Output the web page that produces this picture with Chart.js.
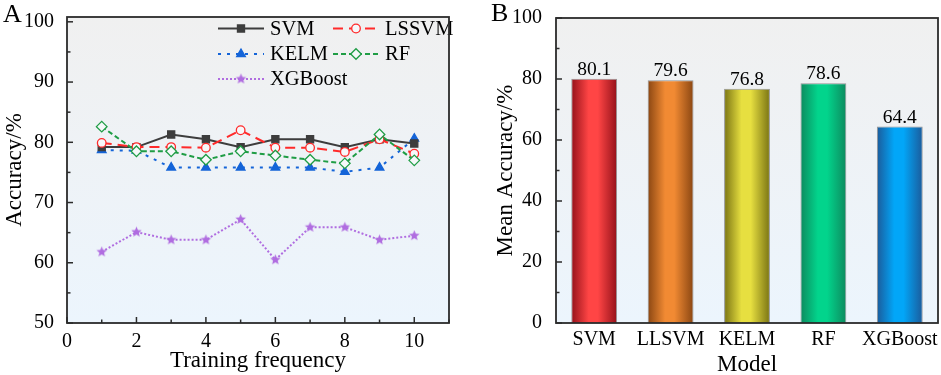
<!DOCTYPE html>
<html><head><meta charset="utf-8">
<script src="https://cdn.jsdelivr.net/npm/chart.js@4/dist/chart.umd.min.js"></script>
<style>
html,body{margin:0;padding:0;background:#fff;width:941px;height:375px;overflow:hidden}
#wl{position:absolute;left:0;top:0;width:470px;height:375px}
#wr{position:absolute;left:470px;top:0;width:471px;height:375px}
</style></head><body>
<div id="wl"><canvas id="cl"></canvas></div>
<div id="wr"><canvas id="cr"></canvas></div>
<script>
// ---------- data ----------
const trainingRuns = [1,2,3,4,5,6,7,8,9,10];
const svm     = [79.2,79.2,81.3,80.5,79.2,80.5,80.5,79.2,80.5,79.8];
const lssvm   = [79.9,79.2,79.2,79.1,82.0,79.1,79.1,78.4,80.5,78.1];
const kelm    = [78.7,78.6,75.8,75.8,75.8,75.8,75.8,75.1,75.8,80.6];
const rf      = [82.6,78.5,78.5,77.1,78.5,77.8,77.1,76.5,81.3,77.0];
const xgboost = [61.8,65.1,63.8,63.8,67.2,60.5,65.9,65.9,63.8,64.5];
const seriesNames = ['SVM','LSSVM','KELM','RF','XGBoost'];
const models = ['SVM','LLSVM','KELM','RF','XGBoost'];
const meanAccuracy = [80.1,79.6,76.8,78.6,64.4];

// ---------- styles ----------
const SERIF = '"Liberation Serif","Times New Roman",serif';
const barBright = ['#ff4545','#f18a33','#e7df40','#02d48c','#02a6f8'];
const barDark   = ['#94111a','#8a4612','#7a7413','#0d8a5e','#1b5b9b'];

function starImage(color, r){
  const c = document.createElement('canvas');
  const s = Math.ceil(r*2+2); c.width = s; c.height = s;
  const g = c.getContext('2d'); g.fillStyle = color; g.beginPath();
  for (let i=0;i<10;i++){
    const rr = i%2===0 ? r : r*0.45;
    const a = -Math.PI/2 + i*Math.PI/5;
    const x = s/2 + rr*Math.cos(a), y = s/2 + rr*Math.sin(a);
    i===0 ? g.moveTo(x,y) : g.lineTo(x,y);
  }
  g.closePath(); g.fill(); return c;
}
const star = starImage('#b06de0', 5.5);

const lineStyles = [
  {color:'#3d3d3d', dash:[], point:'rect', radius:5, fill:'#3d3d3d'},
  {color:'#ff2a2a', dash:[10,6], point:'circle', radius:4.3, fill:'#f6f8fa'},
  {color:'#1464d8', dash:[3,6], point:'triangle', radius:5, fill:'#1464d8'},
  {color:'#1f9d45', dash:[5,3], point:'rectRot', radius:5.3, fill:'#f6f8fa'},
  {color:'#b06de0', dash:[2,2], point:star, radius:5.5, fill:'#b06de0'}
];
const seriesData = [svm, lssvm, kelm, rf, xgboost];
const drawOrder = [2,1,4,0,3];

function bgPlugin(){
  return {
    id:'bg',
    beforeDraw(chart){
      const {ctx, chartArea:a} = chart;
      const g = ctx.createLinearGradient(0,a.top,0,a.bottom);
      g.addColorStop(0,'#f0f0f0'); g.addColorStop(1,'#ecf5fd');
      ctx.save(); ctx.fillStyle = g;
      ctx.fillRect(a.left,a.top,a.right-a.left,a.bottom-a.top); ctx.restore();
    }
  };
}
function frameTicksPlugin(cfg){
  return {
    id:'frameTicks',
    afterDraw(chart){
      const {ctx, chartArea:a} = chart;
      ctx.save();
      ctx.strokeStyle = '#2b2b2b'; ctx.lineWidth = 1.5;
      const ys = chart.scales.y;
      ys.ticks.forEach(t=>{
        const p = ys.getPixelForValue(t.value);
        const len = (Math.abs(t.value % cfg.yMajor) < 1e-6) ? 6 : 3.5;
        ctx.beginPath(); ctx.moveTo(a.left,p); ctx.lineTo(a.left+len,p); ctx.stroke();
      });
      if (cfg.xTicks){
        const xs = chart.scales.x;
        xs.ticks.forEach(t=>{
          const p = xs.getPixelForValue(t.value);
          const len = (Math.abs(t.value % cfg.xMajor) < 1e-6) ? 6 : 3.5;
          ctx.beginPath(); ctx.moveTo(p,a.bottom); ctx.lineTo(p,a.bottom-len); ctx.stroke();
        });
      }
      ctx.lineWidth = 1.8;
      ctx.strokeRect(a.left,a.top,a.right-a.left,a.bottom-a.top);
      ctx.fillStyle = '#000'; ctx.font = '26px '+SERIF; ctx.textBaseline='alphabetic';
      ctx.fillText(cfg.letter, cfg.lx, cfg.ly);
      ctx.restore();
    }
  };
}
function drawMarker(ctx, st, x, y){
  ctx.save();
  ctx.setLineDash([]);
  if (st.point instanceof HTMLCanvasElement){
    ctx.drawImage(st.point, x - st.point.width/2, y - st.point.height/2);
  } else if (Chart.helpers && Chart.helpers.drawPoint){
    ctx.fillStyle = st.fill; ctx.strokeStyle = st.color; ctx.lineWidth = 1.3;
    Chart.helpers.drawPoint(ctx, {pointStyle: st.point, radius: st.radius, rotation:0, borderWidth:1.3}, x, y);
  }
  ctx.restore();
}
const legendPlugin = {
  id:'innerLegend',
  afterDatasetsDraw(chart){
    const {ctx, chartArea:a} = chart;
    const cols = [a.left+151, a.left+266];
    const rows = [a.top+11.5, a.top+37, a.top+62];
    const w = 46;
    ctx.save();
    ctx.font = '20.5px '+SERIF; ctx.fillStyle = '#000'; ctx.textBaseline = 'middle';
    seriesNames.forEach((name,i)=>{
      const st = lineStyles[i];
      const x0 = cols[i%2], y = rows[Math.floor(i/2)];
      ctx.strokeStyle = st.color; ctx.lineWidth = 2; ctx.setLineDash(st.dash);
      ctx.beginPath(); ctx.moveTo(x0,y); ctx.lineTo(x0+w,y); ctx.stroke();
      drawMarker(ctx, st, x0+w/2, y);
      ctx.fillStyle = '#000';
      ctx.fillText(name, x0+w+6, y+1);
    });
    ctx.restore();
  }
};

// ---------- left chart ----------
new Chart(document.getElementById('cl'), {
  type:'line',
  data:{
    datasets: seriesNames.map((name,i)=>({
      label:name,
      data: trainingRuns.map((r,k)=>({x:r, y:seriesData[i][k]})),
      borderColor: lineStyles[i].color,
      borderWidth: 2,
      borderDash: lineStyles[i].dash,
      pointStyle: lineStyles[i].point,
      pointRadius: lineStyles[i].radius,
      pointBackgroundColor: lineStyles[i].fill,
      pointBorderColor: lineStyles[i].color,
      pointBorderWidth: 1.3,
      fill:false, tension:0,
      order: drawOrder[i]
    }))
  },
  options:{
    responsive:true, maintainAspectRatio:false, animation:false,
    layout:{padding:{left:0,right:21,top:14.5,bottom:0}},
    plugins:{legend:{display:false}, tooltip:{enabled:false}},
    scales:{
      x:{type:'linear', min:0, max:11,
        grid:{display:false}, border:{display:false},
        ticks:{stepSize:1, autoSkip:false, maxRotation:0, padding:-1, color:'#000',
          font:{family:SERIF,size:20},
          callback:v=>(v%2===0 && v<=10)?String(v):''},
        title:{display:true, text:'Training frequency', color:'#000',
          font:{family:SERIF,size:23}, padding:{top:0,bottom:0}},
        afterFit:s=>{s.height=52;}
      },
      y:{min:50, max:100.8,
        grid:{display:false}, border:{display:false},
        ticks:{stepSize:5, includeBounds:false, autoSkip:false, padding:5, color:'#000',
          font:{family:SERIF,size:20},
          callback:v=>(v%10===0)?String(v):''},
        title:{display:true, text:'Accuracy/%', color:'#000',
          font:{family:SERIF,size:23}, padding:{top:1,bottom:0}},
        afterFit:s=>{s.width=67;}
      }
    }
  },
  plugins:[bgPlugin(), legendPlugin, frameTicksPlugin({yMajor:10, xMajor:2, xTicks:true, letter:'A', lx:3, ly:22})]
});

// ---------- right chart ----------
const barLabelPlugin = {
  id:'barLabels',
  afterDatasetsDraw(chart){
    const {ctx} = chart;
    const meta = chart.getDatasetMeta(0);
    ctx.save();
    ctx.font = '19.5px '+SERIF; ctx.fillStyle = '#000';
    ctx.textAlign = 'center'; ctx.textBaseline = 'alphabetic';
    meta.data.forEach((el,i)=>{
      ctx.fillText(meanAccuracy[i].toFixed(1), el.x, el.y-4);
    });
    ctx.restore();
  }
};
function barFill(c){
  const chart = c.chart;
  const xs = chart.scales.x, a = chart.chartArea;
  if (!xs || !a) return barBright[c.dataIndex];
  const cx = xs.getPixelForValue(c.dataIndex);
  const half = (a.right-a.left)/models.length*0.6/2;
  const g = chart.ctx.createLinearGradient(cx-half,0,cx+half,0);
  g.addColorStop(0, barDark[c.dataIndex]);
  g.addColorStop(0.38, barBright[c.dataIndex]);
  g.addColorStop(0.58, barBright[c.dataIndex]);
  g.addColorStop(1, barDark[c.dataIndex]);
  return g;
}
new Chart(document.getElementById('cr'), {
  type:'bar',
  data:{labels:models, datasets:[{
    label:'Mean Accuracy', data:meanAccuracy,
    backgroundColor:barFill, borderColor:'rgba(110,110,110,0.7)', borderWidth:1,
    barPercentage:0.6, categoryPercentage:1.0
  }]},
  options:{
    responsive:true, maintainAspectRatio:false, animation:false,
    layout:{padding:{left:0,right:3,top:15,bottom:0}},
    plugins:{legend:{display:false}, tooltip:{enabled:false}},
    scales:{
      x:{grid:{display:false}, border:{display:false},
        ticks:{padding:-3, color:'#000', font:{family:SERIF,size:20}, maxRotation:0, autoSkip:false},
        title:{display:true, text:'Model', color:'#000',
          font:{family:SERIF,size:23}, padding:{top:0,bottom:-4}},
        afterFit:s=>{s.height=52;}
      },
      y:{min:0, max:100,
        grid:{display:false}, border:{display:false},
        ticks:{stepSize:10, autoSkip:false, padding:6, color:'#000',
          font:{family:SERIF,size:20},
          callback:v=>(v%20===0)?String(v):''},
        title:{display:true, text:'Mean Accuracy/%', color:'#000',
          font:{family:SERIF,size:23}, padding:{top:22,bottom:0}},
        afterFit:s=>{s.width=86;}
      }
    }
  },
  plugins:[bgPlugin(), barLabelPlugin, frameTicksPlugin({yMajor:20, xTicks:false, letter:'B', lx:21, ly:21})]
});
</script>
</body></html>
